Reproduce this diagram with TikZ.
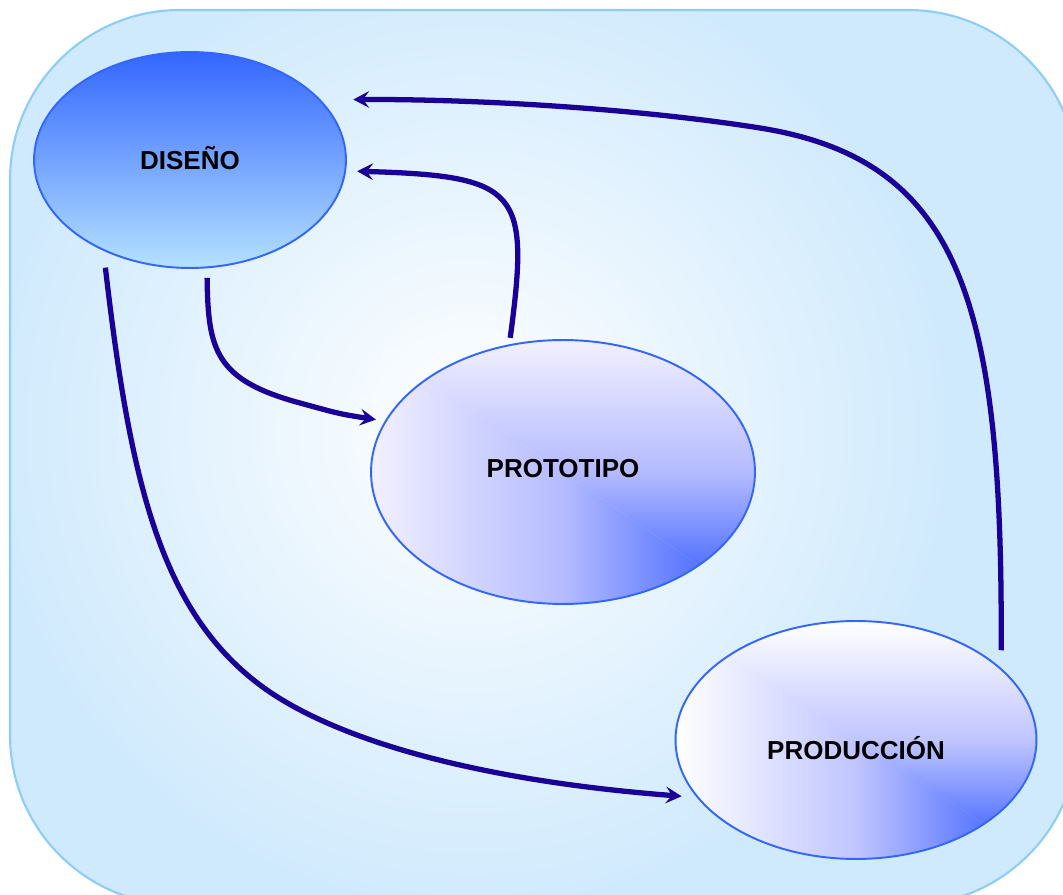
\documentclass[tikz,border=0pt]{standalone}
\usepackage{fontspec}
\setmainfont{Liberation Sans}
\usetikzlibrary{arrows.meta,shapes.geometric}

\definecolor{bgfill}{RGB}{208,234,253}
\definecolor{bgline}{RGB}{140,205,250}
\definecolor{flowcol}{RGB}{26,0,150}
\definecolor{ellborder}{RGB}{51,102,255}
\definecolor{dtop}{RGB}{51,102,255}
\definecolor{dbottom}{RGB}{180,225,255}
\definecolor{pale}{RGB}{242,240,255}
\definecolor{lavA}{RGB}{180,187,255}
\definecolor{lavB}{RGB}{192,197,255}
\definecolor{deep}{RGB}{45,85,255}

\begin{document}
\begin{tikzpicture}[x=0.02cm,y=-0.02cm,
  stage/.style={ellipse, draw=ellborder, line width=1.1pt, inner sep=0pt,
    outer sep=0pt, text=black, text height=10.6pt, text depth=0pt,
    font=\bfseries\fontsize{14.8}{17}\selectfont},
  % corner gradient: light along the left and top, deep towards the lower right
  cornershade/.style n args={3}{path picture={
    \path[left color=#1, right color=#3, middle color=#2]
      (path picture bounding box.south west) -- (path picture bounding box.south east)
      -- (path picture bounding box.north west) -- cycle;
    \path[top color=#1, bottom color=#3, middle color=#2]
      (path picture bounding box.south east) -- (path picture bounding box.north east)
      -- (path picture bounding box.north west) -- cycle;
  }},
  flow/.style={draw=flowcol, line width=3pt,
    -{Stealth[length=9pt,width=9.5pt,inset=3.5pt]}}
]
\useasboundingbox (0,0) rectangle (1063,895);

% background panel
\begin{scope}
  \clip (0,0) rectangle (1063,895);
  \begin{scope}
    \clip[rounded corners=3.4cm] (10,10) rectangle (1078,905);
    \fill[bgfill] (0,0) rectangle (1100,920);
    \shade[inner color=white, outer color=bgfill] (470,430) circle (480);
  \end{scope}
  \draw[bgline, line width=1.2pt, rounded corners=3.4cm] (10,10) rectangle (1078,905);
\end{scope}

% stages
\node[stage, minimum width=6.24cm, minimum height=4.32cm,
      top color=dtop, bottom color=dbottom] (dis) at (190,160) {DISEÑO};
\node[stage, minimum width=7.68cm, minimum height=5.28cm,
      cornershade={pale}{lavA}{deep}, text depth=4.6pt] (proto) at (563,472) {PROTOTIPO};
\node[stage, minimum width=7.22cm, minimum height=4.76cm,
      cornershade={white}{lavB}{deep}, text height=22pt] (prod) at (856,740) {PRODUCCIÓN};

% flows
\draw[flow, shorten <=0.38cm, shorten >=0.68cm]
  (prod.26.2) .. controls (1003,300) and (960,160) .. (760,128)
  .. controls (640,109) and (480,99) .. (dis.25.9);
\draw[flow, shorten <=0.15cm, shorten >=0.24cm]
  (proto.113.9) .. controls (530,190) and (520,176) .. (dis.-4.8);
\draw[flow, shorten <=0.21cm, shorten >=0.2cm]
  (dis.-81) .. controls (208,350) and (215,380) .. (300,403)
  .. controls (340,414) .. (proto.164.6);
\draw[flow, shorten <=0.36cm, shorten >=0.33cm]
  (dis.226.8) .. controls (130,480) and (160,610) .. (260,685)
  .. controls (330,737.5) and (470,780) .. (prod.200.4);
\end{tikzpicture}
\end{document}
